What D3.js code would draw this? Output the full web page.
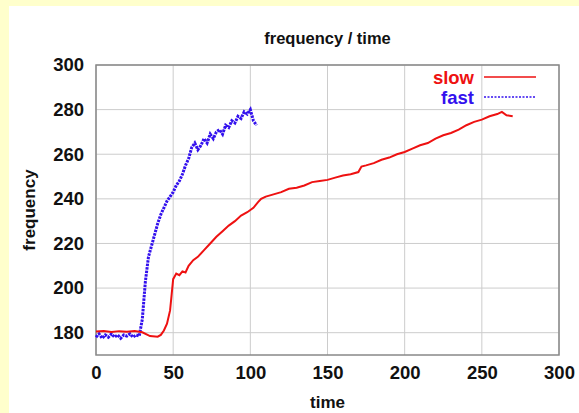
<!DOCTYPE html>
<html>
<head>
<meta charset="utf-8">
<script src="https://cdn.jsdelivr.net/npm/d3@7"></script>
<style>
  body { margin: 0; background: #ffffcc; }
  svg { display: block; font-family: "Liberation Sans", Arial, sans-serif; font-weight: bold; }
</style>
</head>
<body>
<svg width="579" height="413"></svg>
<script>
// slow run (red)
var slowTime = [0,5,10,15,20,25,30,35,40,42,44,46,48,49,50,52,54,56,58,60,63,66,70,74,78,82,86,90,94,98,102,105,107,110,115,120,125,130,135,140,145,150,155,160,165,170,172,175,180,185,190,195,200,205,210,215,220,225,230,235,240,245,250,255,260,263,266,270];
var slowFreq = [180.5,180.8,180.3,180.7,180.4,180.8,180.2,178.5,178.2,179,181,184,190,197,204,206.5,205.8,207.5,207,210,212.5,214,217,220,223,225.5,228,230,232.5,234,236,238.5,240,241,242,243,244.5,245,246,247.5,248,248.5,249.5,250.5,251,252,254.5,255,256,257.5,258.5,260,261,262.5,264,265,267,268.5,269.5,271,273,274.5,275.5,277,278,279,277.5,277];

// fast run (blue)
var fastTime = [0,2,4,6,8,10,12,14,16,18,20,22,24,26,28,30,32,34,36,38,40,42,44,46,48,50,52,54,56,58,60,62,64,66,68,70,72,74,76,78,80,82,84,86,88,90,92,94,96,98,100,102,104];
var fastFreq = [178,179.5,177.5,179,178,179.5,178,179,177.5,179,178.5,179.5,178,179,178.5,186,203,214,219,224,229,233,236,239,241,243,246,248,251,255,258,263,265,262,264,267,265,269,267,270,271,269,273,272,275,274,277,276,279,278,280,275,273];

var xTicks = [0, 50, 100, 150, 200, 250, 300];
var yTicks = [180, 200, 220, 240, 260, 280, 300];

var svg = d3.select("svg");

// white panel over the yellow page
svg.append("rect")
    .attr("x", 9).attr("y", 6)
    .attr("width", 570).attr("height", 407)
    .attr("fill", "#ffffff");

var margin = { top: 65, right: 20, bottom: 58, left: 96 };
var width = 579 - margin.left - margin.right;
var height = 413 - margin.top - margin.bottom;
var g = svg.append("g").attr("transform", "translate(" + margin.left + "," + margin.top + ")");

var xScale = d3.scaleLinear().domain([0, 300]).range([0, width]);
var yScale = d3.scaleLinear().domain([170, 300]).range([height, 0]);

// grid
g.selectAll(".vgrid").data(xTicks).enter().append("line")
    .attr("x1", function (d) { return xScale(d); })
    .attr("x2", function (d) { return xScale(d); })
    .attr("y1", 0).attr("y2", height)
    .attr("stroke", "#cccccc").attr("stroke-width", 1);

g.selectAll(".hgrid").data(yTicks).enter().append("line")
    .attr("y1", function (d) { return yScale(d); })
    .attr("y2", function (d) { return yScale(d); })
    .attr("x1", 0).attr("x2", width)
    .attr("stroke", "#cccccc").attr("stroke-width", 1);

// axes (labels only)
var xAxis = g.append("g")
    .attr("transform", "translate(0," + height + ")")
    .call(d3.axisBottom(xScale).tickValues(xTicks).tickSize(0).tickPadding(11));
var yAxis = g.append("g")
    .call(d3.axisLeft(yScale).tickValues(yTicks).tickSize(0).tickPadding(12));
[xAxis, yAxis].forEach(function (a) {
    a.select(".domain").remove();
    a.selectAll("text")
        .style("font-size", "18.5px")
        .style("font-weight", "bold")
        .style("font-family", "Liberation Sans, Arial, sans-serif")
        .attr("fill", "#111");
});

// frame
g.append("rect")
    .attr("width", width).attr("height", height)
    .attr("fill", "none")
    .attr("stroke", "#888888").attr("stroke-width", 1.5);

var slowLine = d3.line()
    .x(function (d, i) { return xScale(slowTime[i]); })
    .y(function (d) { return yScale(d); });

var fastLine = d3.line()
    .x(function (d, i) { return xScale(fastTime[i]); })
    .y(function (d) { return yScale(d); });

g.append("path")
    .attr("d", fastLine(fastFreq))
    .attr("fill", "none")
    .attr("stroke", "#3311ee")
    .attr("stroke-width", 3)
    .attr("stroke-dasharray", "2.5,1");

g.append("path")
    .attr("d", slowLine(slowFreq))
    .attr("fill", "none")
    .attr("stroke", "#ee1111")
    .attr("stroke-width", 2);

// legend
var legend = [
    { name: "slow", color: "#ee1111", dash: null, y: 12 },
    { name: "fast", color: "#3311ee", dash: "2,1.5", y: 32 }
];
legend.forEach(function (l) {
    g.append("text")
        .attr("x", 378).attr("y", l.y + 7)
        .attr("text-anchor", "end")
        .style("font-size", "18.5px")
        .attr("fill", l.color)
        .text(l.name);
    g.append("line")
        .attr("x1", 388).attr("x2", 440)
        .attr("y1", l.y).attr("y2", l.y)
        .attr("stroke", l.color)
        .attr("stroke-width", 1.5)
        .attr("stroke-dasharray", l.dash);
});

// titles
svg.append("text")
    .attr("x", margin.left + width / 2).attr("y", 44)
    .attr("text-anchor", "middle")
    .style("font-size", "16.5px")
    .attr("fill", "#111")
    .text("frequency / time");

svg.append("text")
    .attr("x", margin.left + width / 2).attr("y", 408)
    .attr("text-anchor", "middle")
    .style("font-size", "17px")
    .attr("fill", "#111")
    .text("time");

svg.append("text")
    .attr("transform", "translate(35," + (margin.top + height / 2) + ") rotate(-90)")
    .attr("text-anchor", "middle")
    .style("font-size", "17px")
    .attr("fill", "#111")
    .text("frequency");
</script>
</body>
</html>
